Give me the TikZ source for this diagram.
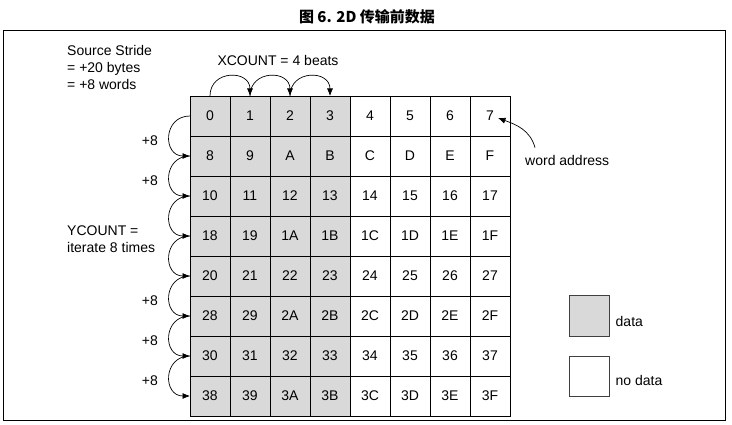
\documentclass[tikz,border=0pt]{standalone}
\usepackage{fontspec}
\setmainfont{Liberation Sans}
\newfontfamily\cjk{Noto Sans CJK SC}
\usetikzlibrary{positioning, calc, arrows.meta}

\definecolor{cellgray}{HTML}{D9D9D9}
\tikzset{
  cell/.style={draw, line width=0.8pt, minimum size=40pt, inner sep=0, outer sep=0, font=\fontsize{14}{17}\selectfont},
  datacell/.style={cell, fill=cellgray},
  keybox/.style={draw=black!75, line width=1pt, minimum size=40pt, inner sep=0},
  lbl/.style={font=\fontsize{14}{17}\selectfont, inner sep=0, align=left},
  hop/.style={-{Latex[length=7.5pt,width=6pt]}, line width=0.7pt},
}

\begin{document}
\begin{tikzpicture}[x=1pt, y=1pt]
  \useasboundingbox (0,0) rectangle (732,-425);

  \node[font=\cjk\bfseries\fontsize{15}{17}\selectfont] (title) at (367,-17) {图 6. 2D 传输前数据};
  \draw[line width=1pt] (3,-30.5) rectangle (725,-420.5);

  % memory, one row of 8 words per stride
  \foreach \row/\labels in {0/{0,1,2,3,4,5,6,7}, 1/{8,9,A,B,C,D,E,F},
      2/{10,11,12,13,14,15,16,17}, 3/{18,19,1A,1B,1C,1D,1E,1F},
      4/{20,21,22,23,24,25,26,27}, 5/{28,29,2A,2B,2C,2D,2E,2F},
      6/{30,31,32,33,34,35,36,37}, 7/{38,39,3A,3B,3C,3D,3E,3F}} {
    \foreach \lab [count=\col from 0] in \labels {
      \ifnum\col<4 \def\kind{datacell}\else\def\kind{cell}\fi
      \node[\kind] (c\row\col) at ({210+40*\col},{-116-40*\row}) {\lab};
    }
  }

  % beats along x
  \foreach \col [evaluate=\col as \next using int(\col+1)] in {0,1,2}
    \draw[hop] (c0\col.north) to[out=90, in=90, looseness=1.7] (c0\next.north);
  \node[lbl] (xcount) at (278,-60) {XCOUNT = 4 beats};

  % stride along y
  \foreach \row [evaluate=\row as \next using int(\row+1)] in {0,...,6}
    \draw[hop] (c\row0.west) to[out=180, in=180, looseness=1.75] (c\next0.west);
  \foreach \row in {0,1,4,5,6}
    \node[lbl, anchor=east] (plus\row) at ($(c\row0.south west)+(-32pt,-5pt)$) {+8};

  \node[lbl, anchor=west] (stride) at (67,-67.5) {Source Stride\\= +20 bytes\\= +8 words};
  \node[lbl, anchor=west] (ycount) at (67,-238.7) {YCOUNT =\\iterate 8 times};

  \node[lbl, anchor=west] (waddr) at (525,-160) {word address};
  \draw[hop] ($(waddr.north west)+(10pt,7pt)$) to[out=105, in=-20] ($(c07)+(8pt,-2pt)$);

  % key
  \node[keybox, fill=cellgray] (keydata) at (589,-316) {};
  \node[keybox] (keynone) at (589,-376) {};
  \node[lbl, right=6pt of keydata, yshift=-5pt] (keydatatxt) {data};
  \node[lbl, right=6pt of keynone, yshift=-4pt] (keynonetxt) {no data};
\end{tikzpicture}
\end{document}
